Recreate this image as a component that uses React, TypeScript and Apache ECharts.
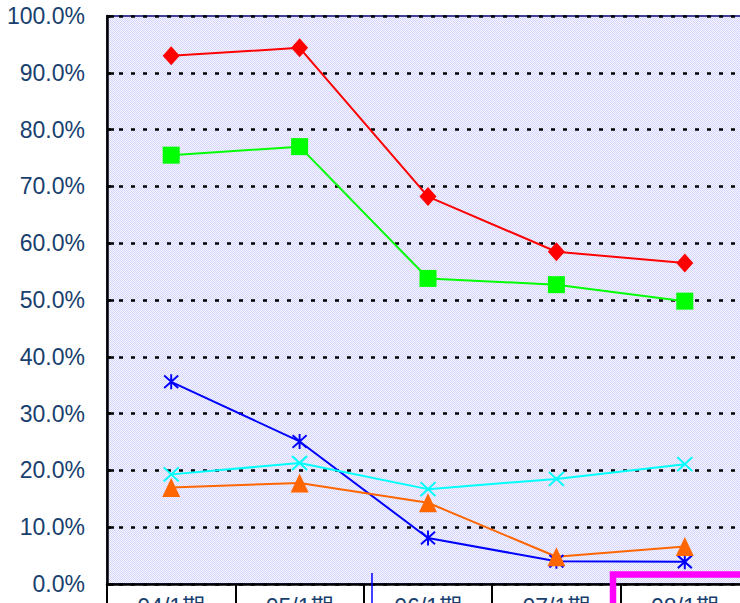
import React, { useEffect, useRef } from "react";
import * as echarts from "echarts";

const categories = ["04/1期", "05/1期", "06/1期", "07/1期", "08/1期"];
const redSeries = [93.0, 94.4, 68.2, 58.5, 56.5];
const greenSeries = [75.5, 77.0, 53.8, 52.7, 49.8];
const blueSeries = [35.6, 25.1, 8.1, 4.0, 3.9];
const cyanSeries = [19.3, 21.3, 16.7, 18.5, 21.1];
const orangeSeries = [17.0, 17.8, 14.3, 4.8, 6.6];

const STAR = "path://M-1,-1L1,1M-1,1L1,-1M0,-1.2L0,1.2";
const CROSS = "path://M-1,-1L1,1M-1,1L1,-1";

function makePattern(): any {
  const c = document.createElement("canvas");
  c.width = 4;
  c.height = 4;
  const ctx = c.getContext("2d");
  if (!ctx) return "#E4E4FC";
  ctx.fillStyle = "#F6F6FF";
  ctx.fillRect(0, 0, 4, 4);
  ctx.fillStyle = "#D4D4FC";
  for (let y = 0; y < 4; y++) {
    for (let x = 0; x < 4; x++) {
      if ((x + y) % 2 === 0) ctx.fillRect(x, y, 1, 1);
    }
  }
  return { image: c, repeat: "repeat" };
}

export default function App() {
  const ref = useRef<HTMLDivElement>(null);
  useEffect(() => {
    document.body.style.margin = "0";
    if (!ref.current) return;
    const chart = echarts.init(ref.current, undefined, { renderer: "svg" });
    const font = "'Liberation Sans', Arial, 'Noto Sans CJK JP', sans-serif";
    const navy = "#18406E";
    const mk = (name: string, data: number[], color: string, symbol: string, size: any, stroke: boolean) => ({
      name,
      type: "line",
      data,
      symbol,
      symbolSize: size,
      showSymbol: true,
      lineStyle: { color, width: 2 },
      itemStyle: stroke
        ? { color: "rgba(0,0,0,0)", borderColor: color, borderWidth: 2 }
        : { color, borderWidth: 0 },
      emphasis: { disabled: true },
    });
    chart.setOption({
      animation: false,
      grid: {
        left: 107,
        top: 16,
        width: 642,
        height: 568,
        containLabel: false,
        outerBoundsMode: "none",
        show: true,
        backgroundColor: makePattern(),
        borderColor: "#404098",
        borderWidth: 2,
      },
      xAxis: {
        type: "category",
        data: categories,
        boundaryGap: true,
        axisLine: { lineStyle: { color: "#000", width: 2.5 } },
        axisTick: { show: true, length: 30, lineStyle: { color: "#000", width: 2 } },
        axisLabel: { color: navy, fontSize: 23, fontFamily: font, margin: 11 },
        splitLine: { show: false },
      },
      yAxis: {
        type: "value",
        min: 0,
        max: 100,
        interval: 10,
        axisLine: { show: true, lineStyle: { color: "#000", width: 2.5 } },
        axisTick: { show: true, inside: true, length: 7, lineStyle: { color: "#000", width: 2.5 } },
        axisLabel: {
          color: navy,
          fontSize: 23,
          fontFamily: font,
          margin: 22,
          padding: [6, 0, 0, 0],
          formatter: (v: number) => v.toFixed(1) + "%",
        },
        splitLine: { show: true, lineStyle: { color: "#000", width: 2.5, type: [4, 8] } },
      },
      series: [
        mk("red", redSeries, "#FF0000", "diamond", [17, 19], false),
        mk("green", greenSeries, "#00FF00", "rect", [17, 17], false),
        mk("blue", blueSeries, "#0000FF", STAR, [14, 15], true),
        mk("orange", orangeSeries, "#FF6600", "triangle", [18, 19], false),
        mk("cyan", cyanSeries, "#00FFFF", CROSS, [15, 14], true),
      ],
      graphic: [
        {
          type: "line",
          shape: { x1: 372, y1: 573, x2: 372, y2: 610 },
          style: { stroke: "#0000FF", lineWidth: 1.5 },
          z: 100,
        },
        {
          type: "rect",
          shape: { x: 613, y: 574.5, width: 200, height: 100 },
          style: { fill: "none", stroke: "#FF00FF", lineWidth: 6.5 },
          z: 100,
        },
      ],
    });
    return () => chart.dispose();
  }, []);
  return <div ref={ref} style={{ width: 740, height: 603 }} />;
}
